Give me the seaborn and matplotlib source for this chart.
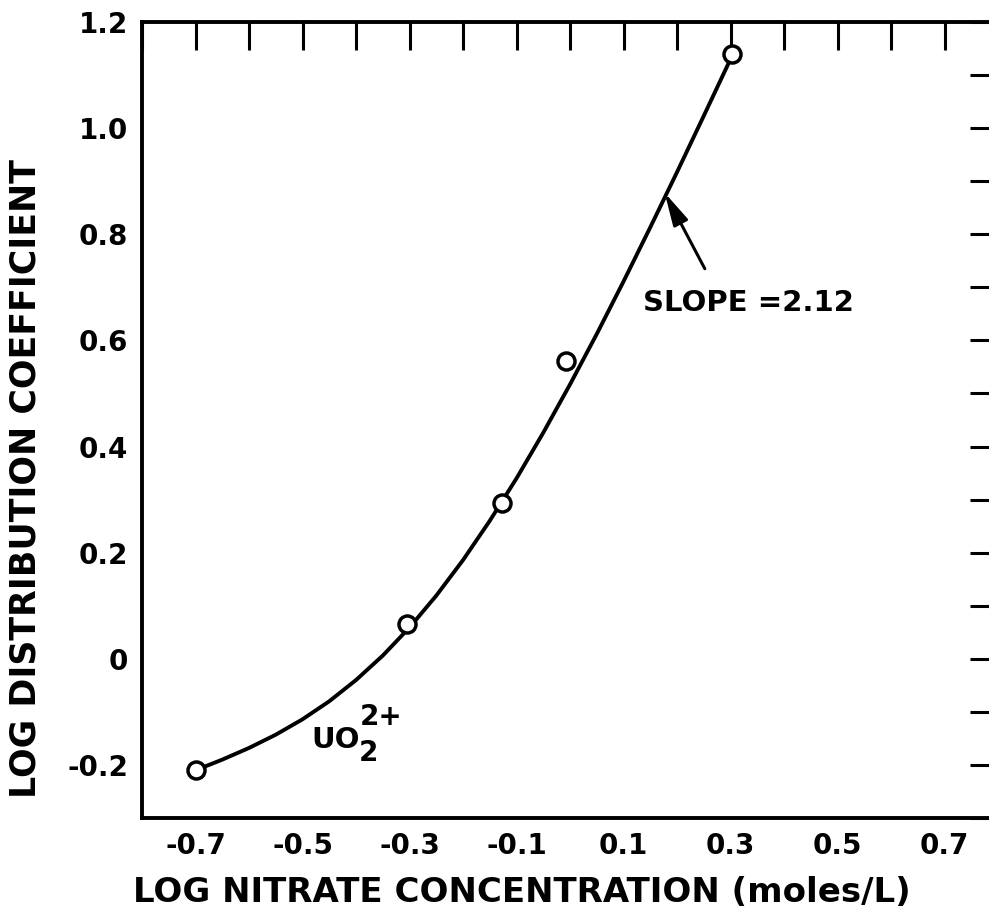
import matplotlib
matplotlib.use("Agg")
import matplotlib.pyplot as plt
import seaborn as sns
import pandas as pd

# Measured points: log nitrate concentration vs log distribution coefficient
point_x = [-0.70, -0.305, -0.127, -0.007, 0.303]
point_y = [-0.21, 0.066, 0.293, 0.561, 1.139]

# Smooth fitted curve through the measurements
curve_x = [-0.70, -0.65, -0.60, -0.55, -0.50, -0.45, -0.40, -0.35, -0.30, -0.25, -0.20,
           -0.15, -0.10, -0.05, 0.00, 0.05, 0.10, 0.15, 0.20, 0.25, 0.30]
curve_y = [-0.210, -0.190, -0.168, -0.143, -0.114, -0.080, -0.040, 0.006, 0.059, 0.119, 0.186,
           0.260, 0.340, 0.426, 0.517, 0.612, 0.711, 0.813, 0.917, 1.023, 1.130]

x_ticks = [-0.8, -0.7, -0.6, -0.5, -0.4, -0.3, -0.2, -0.1, 0.0, 0.1, 0.2, 0.3, 0.4, 0.5, 0.6, 0.7, 0.8]
x_tick_labels = ["", "-0.7", "", "-0.5", "", "-0.3", "", "-0.1", "", "0.1", "", "0.3", "", "0.5", "", "0.7", ""]
y_ticks = [-0.3, -0.2, -0.1, 0.0, 0.1, 0.2, 0.3, 0.4, 0.5, 0.6, 0.7, 0.8, 0.9, 1.0, 1.1, 1.2]
y_tick_labels = ["", "-0.2", "", "0", "", "0.2", "", "0.4", "", "0.6", "", "0.8", "", "1.0", "", "1.2"]

sns.set_style("white")
plt.rcParams["font.family"] = ["DejaVu Sans"]
plt.rcParams["font.weight"] = "bold"
for key in ["text.color", "axes.labelcolor", "xtick.color", "ytick.color", "axes.edgecolor"]:
    plt.rcParams[key] = "black"

fig = plt.figure(figsize=(9.89, 9.15), dpi=100)
ax = fig.add_axes([0.1436, 0.106, 0.8655, 0.870])

curve = pd.DataFrame({"x": curve_x, "y": curve_y})
points = pd.DataFrame({"x": point_x, "y": point_y})

sns.lineplot(data=curve, x="x", y="y", ax=ax, color="black", linewidth=2.8,
             sort=False, zorder=2, solid_joinstyle="round")
sns.scatterplot(data=points, x="x", y="y", ax=ax, marker="o", s=150,
                facecolor="white", edgecolor="black", linewidth=2.5, zorder=3)

ax.set_xlim(-0.8, 0.8)
ax.set_ylim(-0.3, 1.2)

ax.set_xticks(x_ticks)
ax.set_xticklabels(x_tick_labels)
ax.set_yticks(y_ticks)
ax.set_yticklabels(y_tick_labels)

ax.tick_params(axis="both", which="major", direction="in", length=20, width=2.2,
               color="black", labelsize=20, pad=10, top=True, right=True)

for side in ["left", "bottom", "top", "right"]:
    ax.spines[side].set_visible(True)
    ax.spines[side].set_linewidth(2.8)
    ax.spines[side].set_color("black")

ax.set_xlabel("LOG NITRATE CONCENTRATION (moles/L)", fontsize=24.5, fontweight="bold")
ax.set_ylabel("LOG DISTRIBUTION COEFFICIENT", fontsize=25, fontweight="bold")
ax.xaxis.label.set_verticalalignment("center")
ax.yaxis.label.set_verticalalignment("center")
ax.xaxis.set_label_coords(0.444, -0.094)
ax.yaxis.set_label_coords(-0.1367, 0.427)

ax.annotate("", xy=(0.177, 0.878), xytext=(0.252, 0.735),
            arrowprops=dict(arrowstyle="-|>,head_length=0.9,head_width=0.22",
                            color="black", lw=2.2, shrinkA=0, shrinkB=0,
                            mutation_scale=22))
ax.text(0.136, 0.67, "SLOPE =2.12", fontsize=21, fontweight="bold", ha="left", va="center")

# Ion label: UO2 with subscript 2 and superscript 2+
ion_x, ion_y = -0.484, -0.169
ax.text(ion_x, ion_y, "UO", fontsize=21, fontweight="bold", ha="left", va="baseline")
ax.annotate("2", xy=(ion_x, ion_y), xytext=(34, -9), textcoords="offset points",
            fontsize=20, fontweight="bold", ha="left", va="baseline")
ax.annotate("2+", xy=(ion_x, ion_y), xytext=(35, 17), textcoords="offset points",
            fontsize=20, fontweight="bold", ha="left", va="baseline")

fig.savefig("out.png", dpi=100)
